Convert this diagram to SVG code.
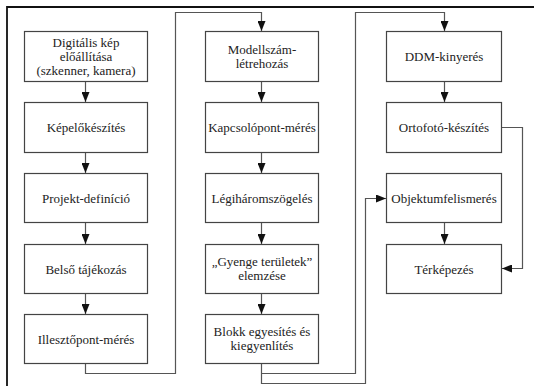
<svg xmlns="http://www.w3.org/2000/svg" width="534" height="387" viewBox="0 0 534 387" font-family="'Liberation Serif', 'DejaVu Serif', 'Times New Roman', serif">
<defs>
<marker id="ah" viewBox="0 0 10 8" refX="10" refY="4" markerWidth="10" markerHeight="8" markerUnits="userSpaceOnUse" orient="auto">
<path d="M0,0 L10,4 L0,8 Z" fill="#111"/>
</marker>
</defs>
<style>
.box{fill:#fff;stroke:#444;stroke-width:1.2}
text{font-family:'Liberation Serif','DejaVu Serif',serif;font-size:13px;fill:#222;text-anchor:middle}
.c{fill:none;stroke:#555;stroke-width:1.2}
.frame{fill:none;stroke:#111;stroke-width:1.8}
</style>
<rect width="534" height="387" fill="#fff"/>
<path class="frame" d="M7,386 V7 H534"/>
<g id="connectors">
<path class="c" d="M85.5,82 V102" marker-end="url(#ah)"/>
<path class="c" d="M85.5,153 V173" marker-end="url(#ah)"/>
<path class="c" d="M85.5,223 V244" marker-end="url(#ah)"/>
<path class="c" d="M85.5,294 V314" marker-end="url(#ah)"/>
<path class="c" d="M261.5,82 V102" marker-end="url(#ah)"/>
<path class="c" d="M261.5,153 V173" marker-end="url(#ah)"/>
<path class="c" d="M261.5,223 V244" marker-end="url(#ah)"/>
<path class="c" d="M261.5,294 V314" marker-end="url(#ah)"/>
<path class="c" d="M444.5,82 V102" marker-end="url(#ah)"/>
<path class="c" d="M444.5,223 V244" marker-end="url(#ah)"/>
<path class="c" d="M85.5,364 V373.5 H175.5 V12.5 H261.5 V31" marker-end="url(#ah)"/>
<path class="c" d="M261.5,364 V383.5 H365.5 V198.5 H386" marker-end="url(#ah)"/>
<path class="c" d="M261.5,373.5 H355.5 V12.5 H444.5 V31" marker-end="url(#ah)"/>
<path class="c" d="M502,127.5 H522.5 V268.5 H502" marker-end="url(#ah)"/>
</g>
<g id="n1"><rect class="box" x="24.5" y="31.5" width="123" height="50"/><text x="86" y="47">Digitális kép</text><text x="86" y="61">előállítása</text><text x="86" y="75">(szkenner, kamera)</text></g>
<g id="n2"><rect class="box" x="24.5" y="102.5" width="123" height="50"/><text x="86" y="132">Képelőkészítés</text></g>
<g id="n3"><rect class="box" x="24.5" y="173.5" width="123" height="49"/><text x="86" y="202.5">Projekt-definíció</text></g>
<g id="n4"><rect class="box" x="24.5" y="244.5" width="123" height="49"/><text x="86" y="273.5">Belső tájékozás</text></g>
<g id="n5"><rect class="box" x="24.5" y="314.5" width="123" height="49"/><text x="86" y="343.5">Illesztőpont-mérés</text></g>
<g id="n6"><rect class="box" x="205.5" y="31.5" width="113" height="50"/><text x="262" y="54">Modellszám-</text><text x="262" y="68">létrehozás</text></g>
<g id="n7"><rect class="box" x="205.5" y="102.5" width="113" height="50"/><text x="262" y="132">Kapcsolópont-mérés</text></g>
<g id="n8"><rect class="box" x="205.5" y="173.5" width="113" height="49"/><text x="262" y="202.5">Légiháromszögelés</text></g>
<g id="n9"><rect class="box" x="205.5" y="244.5" width="113" height="49"/><text x="262" y="266">„Gyenge területek”</text><text x="262" y="280">elemzése</text></g>
<g id="n10"><rect class="box" x="205.5" y="314.5" width="113" height="49"/><text x="262" y="336">Blokk egyesítés és</text><text x="262" y="350">kiegyenlítés</text></g>
<g id="n11"><rect class="box" x="386.5" y="31.5" width="115" height="50"/><text x="444" y="61">DDM-kinyerés</text></g>
<g id="n12"><rect class="box" x="386.5" y="102.5" width="115" height="50"/><text x="444" y="132">Ortofotó-készítés</text></g>
<g id="n13"><rect class="box" x="386.5" y="173.5" width="115" height="49"/><text x="444" y="202.5">Objektumfelismerés</text></g>
<g id="n14"><rect class="box" x="386.5" y="244.5" width="115" height="49"/><text x="444" y="273.5">Térképezés</text></g>
</svg>
